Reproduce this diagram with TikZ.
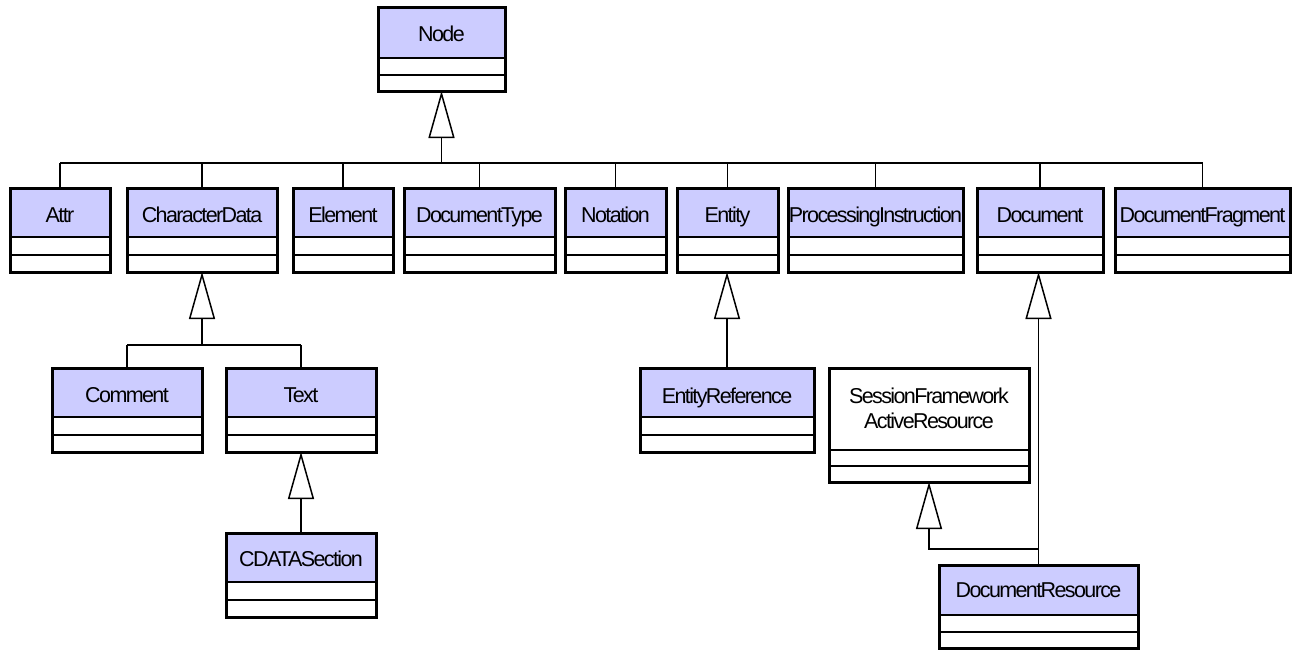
\documentclass[tikz,border=0pt]{standalone}
\usepackage{fontspec}
\newfontfamily\umlfont{Liberation Sans}[LetterSpace=-7.5]
\usetikzlibrary{arrows.meta,calc}
\definecolor{classfill}{HTML}{CCCCFF}

\tikzset{
  classframe/.style={rectangle, fill=white, draw=none, inner sep=0pt, outer sep=0pt},
  classborder/.style={draw=black, line width=3pt},
  compline/.style={draw=black, line width=2pt},
  classname/.style={font=\umlfont\fontsize{21.5pt}{25pt}\selectfont, align=center, inner sep=0pt, text=black},
  labelplace/.style={anchor=base},
  link/.style={draw=black, line width=1.5pt},
  gen/.style={link, -{Triangle[open, length=47pt, width=26pt]}},
}

% #1 fill, #2 name, #3 left, #4 right, #5 top, #6 name height,
% #7 total height, #8 label, #9 label offset below the top edge
\newcommand\umlclass[9][classfill]{%
  \node[classframe, anchor=north west, minimum width={(#4-#3)*1pt},
        minimum height={#7*1pt}] (#2) at (#3,#5) {};
  \fill[#1] (#2.north west) rectangle ($(#2.north east)+(0,#6)$);
  \draw[compline] ($(#2.north west)+(0,#6)$) -- ($(#2.north east)+(0,#6)$);
  \draw[compline] ($(#2.north west)+(0,{#6+(#7-#6)/2})$) -- ($(#2.north east)+(0,{#6+(#7-#6)/2})$);
  \node[classname, labelplace] (#2-label) at ($(#2.north)+(0,#9)$) {#8};
  \draw[classborder] (#2.north west) rectangle (#2.south east);
}

\begin{document}
\begin{tikzpicture}[x=1pt, y={(0pt,-1pt)}]
  \fill[white] (0,0) rectangle (1292,649);
  \useasboundingbox (0,0) rectangle (1292,649);

  % root
  \umlclass{node}{378}{505}{7}{51}{84}{Node}{34}

  % first level
  \umlclass{attr}{10}{110}{188}{49}{84}{Attr}{34}
  \umlclass{chardata}{127}{277}{188}{49}{84}{CharacterData}{34}
  \umlclass{element}{293}{393}{188}{49}{84}{Element}{34}
  \umlclass{doctype}{404}{555}{188}{49}{84}{DocumentType}{34}
  \umlclass{notation}{565}{666}{188}{49}{84}{Notation}{34}
  \umlclass{entity}{677}{778}{188}{49}{84}{Entity}{34}
  \umlclass{procinst}{788}{963}{188}{49}{84}{ProcessingInstruction}{34}
  \umlclass{document}{977}{1103}{188}{49}{84}{Document}{34}
  \umlclass{docfrag}{1115}{1290}{188}{49}{84}{DocumentFragment}{34}

  % second level
  \umlclass{comment}{52}{202}{368}{49}{84}{Comment}{34}
  \umlclass{text}{226}{376}{368}{49}{84}{Text}{34}
  \umlclass{entref}{640}{814}{368}{49}{84}{EntityReference}{35}
  \begin{scope}[labelplace/.style={anchor=center}]
    \umlclass[white]{sfres}{829}{1029}{368}{82}{114}{SessionFramework\\ActiveResource}{40}
  \end{scope}

  % third level
  \umlclass{cdata}{226}{376}{533}{49}{84}{CDATASection}{33}
  \umlclass{docres}{939}{1138}{565}{50}{83}{DocumentResource}{32}

  % Node generalisation tree
  \coordinate (hub) at (node.south |- 0,163);
  \draw[gen] (hub) -- (node.south);
  \draw[link] (attr.north |- hub) -- (docfrag.north |- hub);
  \foreach \c in {attr,chardata,element,doctype,notation,entity,procinst,document,docfrag}
    \draw[link] (\c.north) -- (\c.north |- hub);

  % CharacterData subclasses
  \coordinate (cdhub) at (chardata.south |- 0,345);
  \draw[gen] (cdhub) -- (chardata.south);
  \draw[link] (comment.north |- cdhub) -- (text.north |- cdhub);
  \draw[link] (comment.north) -- (comment.north |- cdhub);
  \draw[link] (text.north) -- (text.north |- cdhub);

  % Text -> CDATASection
  \draw[gen] (cdata.north) -- (text.south);

  % Entity -> EntityReference
  \draw[gen] (entref.north) -- (entref.north |- entity.south);

  % DocumentResource generalisations
  \draw[gen] (docres.north) -- (docres.north |- document.south);
  \coordinate (drjoin) at (docres.north |- 0,549);
  \draw[gen] (drjoin) -| (sfres.south);
\end{tikzpicture}
\end{document}
